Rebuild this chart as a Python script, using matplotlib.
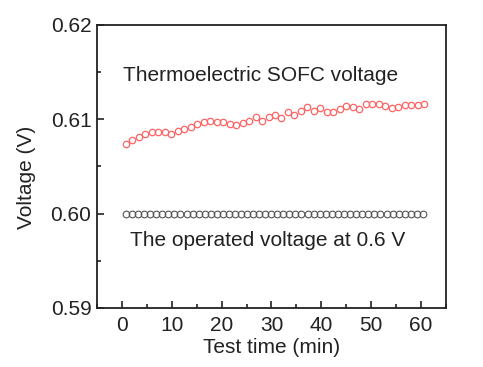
import matplotlib
matplotlib.use("Agg")
import matplotlib.pyplot as plt
from matplotlib.ticker import MultipleLocator, FormatStrFormatter

time_min = [0.8, 2.1, 3.4, 4.7, 6.0, 7.3, 8.6, 9.9, 11.2, 12.5, 13.8, 15.1,
            16.4, 17.7, 19.0, 20.3, 21.6, 22.9, 24.2, 25.5, 26.8, 28.1, 29.4,
            30.7, 32.0, 33.3, 34.6, 35.9, 37.2, 38.5, 39.8, 41.1, 42.4, 43.7,
            45.0, 46.3, 47.6, 48.9, 50.2, 51.5, 52.8, 54.1, 55.4, 56.7, 58.0,
            59.3, 60.5]
sofc_voltage = [0.60738, 0.60785, 0.60812, 0.60844, 0.60869, 0.60869, 0.60862,
                0.60846, 0.60874, 0.60897, 0.60922, 0.60947, 0.60971, 0.60978,
                0.60968, 0.60968, 0.60950, 0.60943, 0.60961, 0.60986, 0.61028,
                0.60982, 0.61028, 0.61046, 0.61017, 0.61074, 0.61045, 0.61086,
                0.61134, 0.61088, 0.61116, 0.61081, 0.61081, 0.61109, 0.61144,
                0.61127, 0.61106, 0.61159, 0.61159, 0.61159, 0.61141, 0.61123,
                0.61127, 0.61152, 0.61152, 0.61152, 0.61159]

time_ref_min = [0.8, 2.0, 3.2, 4.4, 5.7, 6.9, 8.1, 9.3, 10.5, 11.7, 13.0, 14.2,
                15.4, 16.6, 17.8, 19.0, 20.2, 21.5, 22.7, 23.9, 25.1, 26.3,
                27.5, 28.7, 30.0, 31.2, 32.4, 33.6, 34.8, 36.0, 37.3, 38.5,
                39.7, 40.9, 42.1, 43.3, 44.5, 45.8, 47.0, 48.2, 49.4, 50.6,
                51.8, 53.1, 54.3, 55.5, 56.7, 57.9, 59.1, 60.3]
operated_voltage = [0.600] * len(time_ref_min)

plt.rcParams['font.family'] = ['Liberation Sans', 'DejaVu Sans']
fig = plt.figure(figsize=(4.83, 3.67), dpi=100)
ax = fig.add_axes([0.2008, 0.1608, 0.7226, 0.7711])

ax.plot(time_min, sofc_voltage, linestyle='none', marker='o', markersize=4.6,
        markerfacecolor='none', markeredgecolor='#ff6464', markeredgewidth=0.9)
ax.plot(time_ref_min, operated_voltage, linestyle='none', marker='o', markersize=4.8,
        markerfacecolor='none', markeredgecolor='#555555', markeredgewidth=0.8)

ax.set_xlim(-5, 65)
ax.set_ylim(0.59, 0.62)
ax.xaxis.set_major_locator(MultipleLocator(10))
ax.xaxis.set_minor_locator(MultipleLocator(5))
ax.yaxis.set_major_locator(MultipleLocator(0.01))
ax.yaxis.set_minor_locator(MultipleLocator(0.005))
ax.yaxis.set_major_formatter(FormatStrFormatter('%.2f'))

ax.tick_params(which='both', direction='in', top=False, right=False,
               labelsize=15, width=1.2, colors='#222222')
ax.tick_params(axis='x', which='major', length=5, pad=6)
ax.tick_params(axis='y', which='major', length=5, pad=4)
ax.tick_params(which='minor', length=3)
for s in ax.spines.values():
    s.set_linewidth(1.3)
    s.set_color('#222222')

ax.set_xlabel('Test time (min)', fontsize=15, color='#222222', labelpad=2)
ax.set_ylabel('Voltage (V)', fontsize=15, color='#222222')
ax.yaxis.set_label_coords(-0.175, 0.463)

ax.text(0.2, 0.6146, 'Thermoelectric SOFC voltage', fontsize=15,
        color='#222222', va='center', ha='left')
ax.text(1.6, 0.5972, 'The operated voltage at 0.6 V', fontsize=15,
        color='#222222', va='center', ha='left')

fig.savefig('out.png', dpi=100)
